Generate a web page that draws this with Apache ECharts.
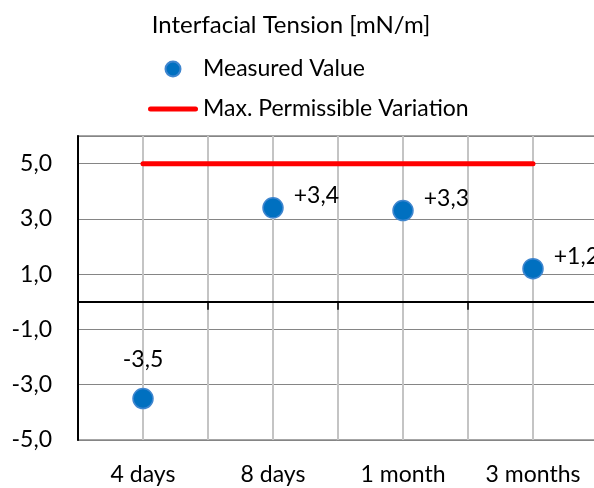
<!DOCTYPE html>
<html><head><meta charset="utf-8">
<script src="https://cdn.jsdelivr.net/npm/echarts@6/dist/echarts.min.js"></script>
<style>html,body{margin:0;padding:0;background:#fff}#c{width:594px;height:488px}</style>
</head><body><div id="c"></div>
<script>
const categories = ['4 days', '8 days', '1 month', '3 months'];
const measured = [-3.5, 3.4, 3.3, 1.2];
const maxVariation = [5, 5, 5, 5];
const yMin = -5, yMax = 6, yInterval = 2;

const fmt = v => v.toFixed(1).replace('.', ',');
const fmtSigned = v => (v > 0 ? '+' : '') + fmt(v);
const FONT = 'Lato';
const FS = 23;

const chart = echarts.init(document.getElementById('c'), null, {renderer: 'canvas'});
chart.setOption({
  animation: false,
  textStyle: {fontFamily: FONT, color: '#000'},
  title: {
    text: 'Interfacial Tension [mN/m]',
    left: 286, top: 8, textAlign: 'center',
    textStyle: {fontFamily: FONT, fontSize: 24, lineHeight: 24, fontWeight: 'normal', color: '#000'}
  },
  legend: {
    orient: 'vertical', left: 143, top: 52,
    itemWidth: 50, itemHeight: 15, itemGap: 16,
    textStyle: {fontFamily: FONT, fontSize: FS, lineHeight: 24, color: '#000'},
    data: [
      {name: 'Measured Value', icon: 'circle'},
      {name: 'Max. Permissible Variation',
       icon: 'path://M2.5,0 H47.5 A2.5,2.5 0 0 1 47.5,5 H2.5 A2.5,2.5 0 0 1 2.5,0 Z'}
    ]
  },
  grid: {
    left: 78, top: 136, width: 520, bottom: 48,
    containLabel: false, outerBoundsMode: 'none',
    show: true, borderColor: '#a6a6a6', borderWidth: 2, backgroundColor: 'transparent'
  },
  xAxis: [
    {
      type: 'category', data: categories, position: 'bottom',
      axisLine: {show: false, onZero: false},
      axisTick: {show: false},
      axisLabel: {fontFamily: FONT, fontSize: FS, color: '#000', margin: 23},
      splitLine: {show: false}
    },
    {
      type: 'category', data: categories, position: 'top',
      axisLine: {show: true, onZero: true, lineStyle: {color: '#000', width: 2}},
      axisTick: {show: true, inside: true, length: 8, lineStyle: {color: '#000', width: 1.5}},
      axisLabel: {show: false},
      splitLine: {show: false}
    },
    {
      type: 'value', min: 0, max: 8, interval: 1, position: 'bottom',
      axisLine: {show: false, onZero: false}, axisTick: {show: false}, axisLabel: {show: false},
      splitLine: {show: true, lineStyle: {color: '#c4c4c4', width: 2}}
    }
  ],
  yAxis: {
    type: 'value', min: yMin, max: yMax, interval: yInterval,
    axisLine: {show: true, onZero: false, lineStyle: {color: '#000', width: 2}},
    axisTick: {show: false},
    axisLabel: {
      fontFamily: FONT, fontSize: FS, color: '#000', margin: 26,
      formatter: v => (v > 5 ? '' : fmt(v))
    },
    splitLine: {show: true, lineStyle: {color: '#858585', width: 1}}
  },
  series: [
    {
      name: 'Max. Permissible Variation', type: 'line', xAxisIndex: 0,
      data: maxVariation, symbol: 'none', z: 3,
      lineStyle: {color: '#ff0000', width: 5, cap: 'round'},
      itemStyle: {color: '#ff0000'}
    },
    {
      name: 'Measured Value', type: 'scatter', xAxisIndex: 0,
      symbolSize: 20, z: 4,
      itemStyle: {color: '#0070c0', opacity: 1, borderColor: '#3f86cf', borderWidth: 1.5},
      label: {
        show: true, fontFamily: FONT, fontSize: FS, color: '#000',
        formatter: p => fmtSigned(p.value)
      },
      data: measured.map((v, i) => ({
        value: v,
        label: i === 0 ? {position: 'top', distance: 17}
                       : {position: 'right', distance: 10, offset: [0, -12]}
      }))
    }
  ]
});
</script></body></html>
